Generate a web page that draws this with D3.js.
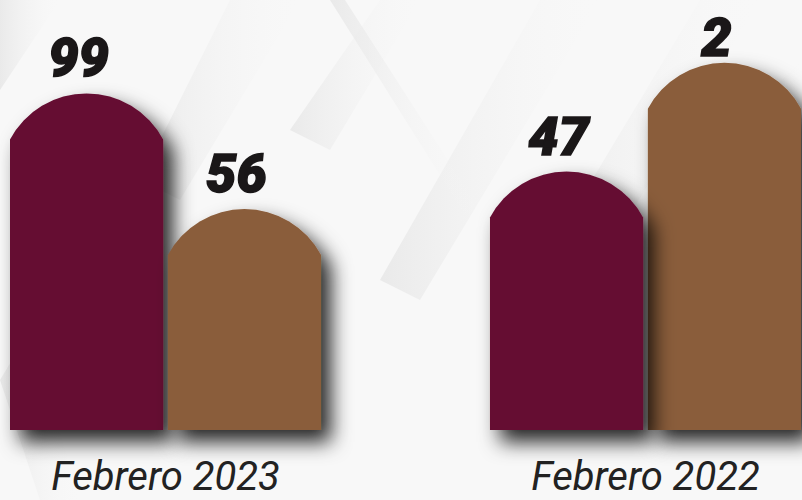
<!DOCTYPE html>
<html>
<head>
<meta charset="utf-8">
<script src="https://cdn.jsdelivr.net/npm/d3@7"></script>
<style>
  body { margin: 0; background: #f7f7f7; }
  svg { display: block; }
</style>
</head>
<body>
<div id="chart"></div>
<script>
// data
var periodos = ["Febrero 2023", "Febrero 2022"];
var series = ["guinda", "cafe"];
var etiquetas = [[99, 56], [47, 2]];      // numbers printed over each bar
var alturas = [[99, 65], [76, 108]];      // bar height as drawn (chart index units)
var colores = ["#651033", "#8a5d3b"];

var W = 802, H = 500;
var base = 430;

var svg = d3.select("#chart").append("svg")
  .attr("width", W).attr("height", H);

// shadow filter
var defs = svg.append("defs");
var f = defs.append("filter").attr("id", "sombra")
  .attr("x", "-30%").attr("y", "-30%").attr("width", "170%").attr("height", "170%");
f.append("feDropShadow")
  .attr("dx", 10).attr("dy", 12).attr("stdDeviation", 10)
  .attr("flood-color", "#000").attr("flood-opacity", 0.85);

var gr = defs.append("linearGradient").attr("id", "banda")
  .attr("x1", 0).attr("y1", 0).attr("x2", 1).attr("y2", 0);
gr.append("stop").attr("offset", "0%").attr("stop-color", "#e6e6e6");
gr.append("stop").attr("offset", "100%").attr("stop-color", "#f7f7f7").attr("stop-opacity", 0);

// background: soft diagonal bands
svg.append("rect").attr("width", W).attr("height", H).attr("fill", "#f8f8f8");
var fondo = [
  [[380,0],[420,0],[330,150],[290,130]],
  [[540,0],[600,0],[420,300],[380,280]],
  [[0,0],[60,0],[0,90]],
  [[700,0],[760,0],[560,330],[520,300]],
  [[330,0],[345,0],[480,210],[465,215]],
  [[0,380],[30,330],[80,500],[40,500]],
  [[740,120],[802,60],[802,140],[760,200]],
  [[230,0],[300,0],[180,200],[140,180]]
];
svg.append("g").selectAll("polygon")
  .data(fondo).enter().append("polygon")
  .attr("points", function(d) { return d.join(" "); })
  .attr("fill", "url(#banda)")
  .attr("opacity", 0.8);

// scales
var x0 = d3.scaleBand().domain(periodos).range([10, 801]).paddingInner(0.352);
var x1 = d3.scaleBand().domain(series).range([0, x0.bandwidth()]).paddingInner(0.03);
var y = d3.scaleLinear().domain([0, 100]).range([base, 90]);

var arco = 46;
function barra(x, w, top) {
  var r = (w * w / 4 + arco * arco) / (2 * arco);
  return "M" + x + "," + base +
    "V" + (top + arco) +
    "A" + r + "," + r + " 0 0 1 " + (x + w) + "," + (top + arco) +
    "V" + base + "Z";
}

var grupos = svg.selectAll(".grupo")
  .data(periodos).enter().append("g")
  .attr("class", "grupo")
  .attr("transform", function(d) { return "translate(" + x0(d) + ",0)"; });

grupos.each(function(p, gi) {
  var g = d3.select(this);
  var datos = series.map(function(s, i) {
    return { s: s, i: i, h: alturas[gi][i], lab: etiquetas[gi][i] };
  });
  // in the second group the maroon bar casts its shadow over the brown one
  if (gi == 1) datos.reverse();
  g.selectAll("path")
    .data(datos).enter().append("path")
    .attr("d", function(d) { return barra(x1(d.s), x1.bandwidth(), y(d.h)); })
    .attr("fill", function(d) { return colores[d.i]; })
    .attr("filter", "url(#sombra)");
  g.selectAll("text.num")
    .data(datos).enter().append("text")
    .attr("class", "num")
    .attr("x", function(d) { return x1(d.s) + x1.bandwidth() / 2 - 8; })
    .attr("y", function(d) { return Math.max(56, y(d.h) - 17); })
    .attr("text-anchor", "middle")
    .style("font-family", "Roboto, 'Open Sans', sans-serif")
    .style("font-weight", 900)
    .style("font-style", "italic")
    .style("font-size", "54px")
    .style("fill", "#1a1718")
    .style("stroke", "#1a1718")
    .style("stroke-width", 1.5)
    .text(function(d) { return d.lab; });
});

// period labels
svg.selectAll("text.periodo")
  .data(periodos).enter().append("text")
  .attr("class", "periodo")
  .attr("x", function(d) { return x0(d) + x0.bandwidth() / 2; })
  .attr("y", 490)
  .attr("text-anchor", "middle")
  .style("font-family", "Roboto, sans-serif")
  .style("font-style", "italic")
  .style("font-size", "40px")
  .style("fill", "#222")
  .text(function(d) { return d; });
</script>
</body>
</html>
